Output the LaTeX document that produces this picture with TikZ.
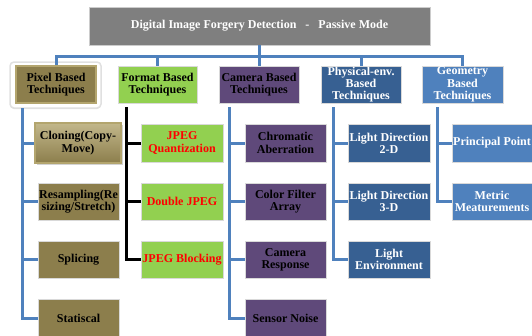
\documentclass[tikz,border=0pt]{standalone}
\usepackage{fontspec}
\setmainfont{Liberation Serif}
\usetikzlibrary{shadows}
\definecolor{olv}{HTML}{8C7E4C}
\definecolor{olvL}{HTML}{B3A56E}
\definecolor{grn}{HTML}{92D050}
\definecolor{prp}{HTML}{5F497A}
\definecolor{dbl}{HTML}{376092}
\definecolor{lbl}{HTML}{4F81BD}
\definecolor{gry}{HTML}{7F7F7F}
\definecolor{cn}{HTML}{4F81BD}
\tikzset{
  box/.style={draw=white!85!black, line width=0.6pt, inner sep=0pt, align=center,
    font=\fontsize{12}{12.3}\selectfont\bfseries, minimum height=37pt},
  pixb/.style={box, fill=olv, text=black, draw=olvL, line width=1.2pt},
  fmtb/.style={box, fill=grn, text=black},
  camb/.style={box, fill=prp, text=black},
  phyb/.style={box, fill=dbl, text=white},
  geob/.style={box, fill=lbl, text=white},
  fmtc/.style={box, fill=grn, text=red},
  conn/.style={draw=cn, line width=3pt},
  kconn/.style={draw=black, line width=3pt},
}
\begin{document}
\begin{tikzpicture}[x=1pt,y=-1pt]
\useasboundingbox (0,0) rectangle (532,335);
\clip (0,0) rectangle (532,335);
% top
\node[box, fill=gry, text=white, minimum width=341pt, minimum height=38pt, draw=white!80!black] (top) at (259.5,26)
  {Digital Image Forgery Detection\ \ \ -\ \ \ Passive Mode};
% glow frame
\node[fill=white, draw=black!12, line width=1.5pt, rounded corners=4pt, minimum width=91pt, minimum height=46pt,
  drop shadow={shadow xshift=0pt, shadow yshift=-1pt, opacity=0.25}] (glow) at (55.5,85) {};
% level 1
\node[pixb, minimum width=80pt] (pix) at (56,84.5) {Pixel Based\\Techniques};
\node[fmtb, minimum width=79pt] (fmt) at (157.5,84.5) {Format Based\\Techniques};
\node[camb, minimum width=80pt] (cam) at (259,84.5) {Camera Based\\Techniques};
\node[phyb, minimum width=80pt] (phy) at (361,84.5) {Physical-env.\\Based\\Techniques};
\node[geob, minimum width=81pt] (geo) at (462.5,84.5) {Geometry\\Based\\Techniques};
% bus
\coordinate (bus) at (0,56);
\draw[conn] (top.south) -- (top.south|-bus);
\draw[conn] (pix.north) -- (pix.north|-bus) -| (geo.north);
\draw[conn] (fmt.north) -- (fmt.north|-bus);
\draw[conn] (cam.north) -- (cam.north|-bus);
\draw[conn] (phy.north) -- (phy.north|-bus);
% pixel children
\node[pixb, minimum width=86pt, minimum height=40pt, shading=axis, top color=olvL!80!white, bottom color=olv, draw=olvL,
  drop shadow={shadow xshift=1.5pt, shadow yshift=-2pt, opacity=0.35}] (p1) at (78,143) {Cloning(Copy-\\Move)};
\node[pixb, minimum width=81pt, draw=white!85!black, line width=0.6pt] (p2) at (78.5,201.5) {Resampling(Re\\sizing/Stretch)};
\node[pixb, minimum width=81pt, draw=white!85!black, line width=0.6pt] (p3) at (78.5,259.5) {Splicing};
\node[pixb, minimum width=81pt, draw=white!85!black, line width=0.6pt] (p4) at (78.5,318) {Statiscal};
\coordinate (pl) at (22,108);
\draw[conn] (pl) |- (p4.west);
\draw[conn] (pl) |- (p1.west);
\draw[conn] (pl) |- (p2.west);
\draw[conn] (pl) |- (p3.west);
% format children
\node[fmtc, minimum width=82pt, minimum height=38pt] (f1) at (182,143) {JPEG\\Quantization};
\node[fmtc, minimum width=82pt] (f2) at (182,201.5) {Double JPEG};
\node[fmtc, minimum width=82pt] (f3) at (182,259.5) {JPEG Blocking};
\coordinate (fl) at (126,107);
\draw[kconn] (fl) |- (f3.west);
\draw[kconn] (fl) |- (f1.west);
\draw[kconn] (fl) |- (f2.west);
% camera children
\node[camb, minimum width=81pt, minimum height=38pt] (c1) at (285.5,143) {Chromatic\\Aberration};
\node[camb, minimum width=81pt] (c2) at (285.5,201.5) {Color Filter\\Array};
\node[camb, minimum width=81pt] (c3) at (285.5,259.5) {Camera\\Response};
\node[camb, minimum width=81pt] (c4) at (285.5,318) {Sensor Noise};
\coordinate (cl) at (229,107);
\draw[conn] (cl) |- (c4.west);
\draw[conn] (cl) |- (c1.west);
\draw[conn] (cl) |- (c2.west);
\draw[conn] (cl) |- (c3.west);
% physical children
\node[phyb, minimum width=82pt, minimum height=38pt] (h1) at (389,143) {Light Direction\\2-D};
\node[phyb, minimum width=82pt] (h2) at (389,201.5) {Light Direction\\3-D};
\node[phyb, minimum width=82pt] (h3) at (389,259.5) {Light\\Environment};
\coordinate (hl) at (333,107);
\draw[conn] (hl) |- (h3.west);
\draw[conn] (hl) |- (h1.west);
\draw[conn] (hl) |- (h2.west);
% geometry children
\node[geob, minimum width=80pt, minimum height=38pt] (g1) at (492,143) {Principal Point};
\node[geob, minimum width=80pt] (g2) at (492,201.5) {Metric\\Meaturements};
\coordinate (gl) at (437,107);
\draw[conn] (gl) |- (g2.west);
\draw[conn] (gl) |- (g1.west);
\end{tikzpicture}
\end{document}
